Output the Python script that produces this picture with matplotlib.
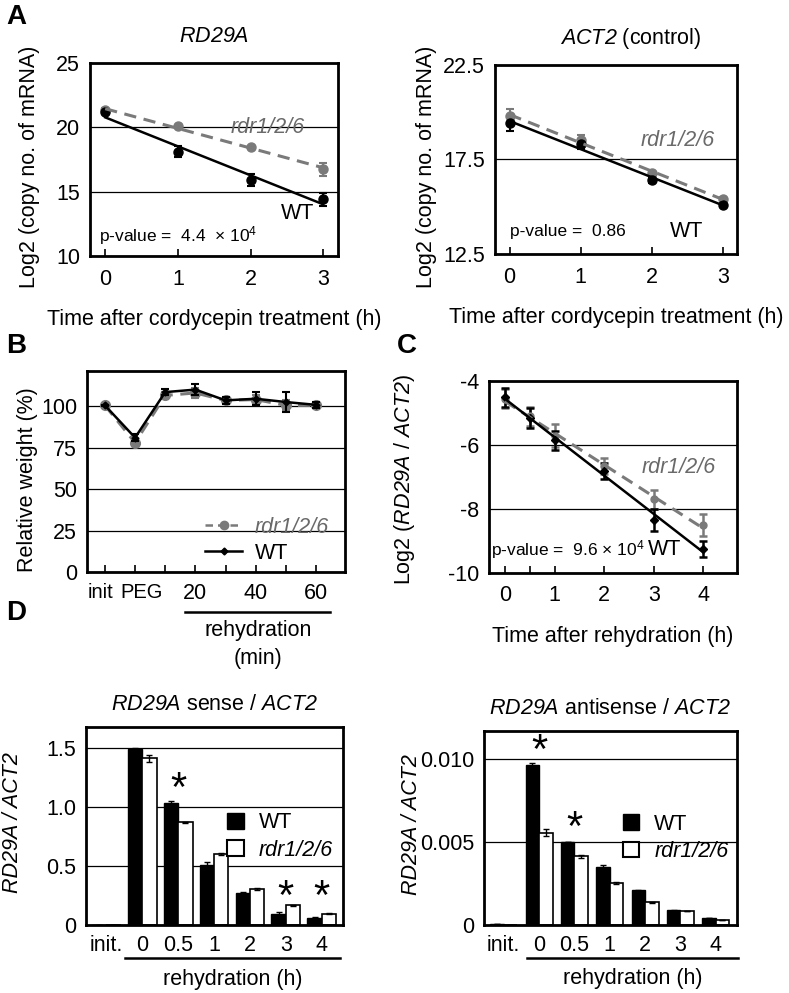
import numpy as np
import matplotlib
matplotlib.use("Agg")
import matplotlib.pyplot as plt
from matplotlib.lines import Line2D
from matplotlib.patches import Patch
from matplotlib.transforms import ScaledTranslation

plt.rcParams['font.family'] = ['Liberation Sans', 'DejaVu Sans']
plt.rcParams['axes.unicode_minus'] = False
# math mode is only used for italic gene names, so make rm italic too (digits stay italic)
plt.rcParams['mathtext.fontset'] = 'custom'
plt.rcParams['mathtext.rm'] = 'Liberation Sans:italic'
plt.rcParams['mathtext.it'] = 'Liberation Sans:italic'
plt.rcParams['mathtext.sf'] = 'Liberation Sans'
plt.rcParams['mathtext.bf'] = 'Liberation Sans:bold'

GREY = '#7a7a7a'
GREY_TXT = '#6a6a6a'
FS = 15.5

# ---- panel A data (cordycepin time course) ----
a_time = [0, 1, 2, 3]
rd29a_wt = [21.15, 18.1, 15.9, 14.4]
rd29a_wt_err = [0.15, 0.45, 0.5, 0.5]
rd29a_rdr = [21.3, 20.05, 18.45, 16.75]
rd29a_rdr_err = [0.15, 0.1, 0.1, 0.5]
act2_wt = [19.4, 18.3, 16.4, 15.1]
act2_wt_err = [0.4, 0.25, 0.15, 0.1]
act2_rdr = [19.8, 18.5, 16.8, 15.4]
act2_rdr_err = [0.35, 0.3, 0.1, 0.1]

# ---- panel B data (relative weight) ----
b_labels = ['init', 'PEG', '', '20', '', '40', '', '60']
weight_wt = [100.5, 81, 108.5, 110, 103.5, 104.5, 102.5, 100.8]
weight_wt_err = [0.5, 2, 2, 3.5, 2, 4, 6, 2]
weight_rdr = [100.5, 78, 106.5, 108, 103.5, 104, 100.5, 100.5]
weight_rdr_err = [0.5, 1.5, 2, 3, 1.5, 3, 3, 1.5]

# ---- panel C data (RD29A / ACT2 after rehydration) ----
c_time = [0, 0.5, 1, 2, 3, 4]
ratio_wt = [-4.5, -5.15, -5.85, -6.8, -8.35, -9.25]
ratio_wt_err = [0.3, 0.3, 0.3, 0.25, 0.35, 0.25]
ratio_rdr = [-4.55, -5.1, -5.7, -6.65, -7.7, -8.5]
ratio_rdr_err = [0.3, 0.3, 0.35, 0.25, 0.3, 0.35]

# ---- panel D data (strand specific qPCR) ----
d_labels = ['init.', '0', '0.5', '1', '2', '3', '4']
sense_wt = [0.005, 1.49, 1.035, 0.515, 0.275, 0.1, 0.065]
sense_wt_err = [0, 0.01, 0.015, 0.02, 0.005, 0.015, 0.005]
sense_rdr = [0.003, 1.415, 0.875, 0.605, 0.31, 0.17, 0.1]
sense_rdr_err = [0, 0.03, 0.004, 0.005, 0.01, 0.005, 0.003]
anti_wt = [0.00008, 0.0096, 0.0050, 0.0035, 0.0021, 0.00092, 0.00042]
anti_wt_err = [0, 0.00015, 0, 0.0001, 0.00005, 0.00003, 0]
anti_rdr = [0.00004, 0.00555, 0.00415, 0.00253, 0.00139, 0.00088, 0.00032]
anti_rdr_err = [0, 0.0002, 0.0001, 0.00005, 0.00003, 0, 0]
sense_stars = [2, 5, 6]
anti_stars = [1, 2]

fig = plt.figure(figsize=(7.89, 9.93), dpi=100)


def frame(ax):
    for s in ax.spines.values():
        s.set_linewidth(2.0)
    ax.set_axisbelow(True)
    ax.grid(axis='y', color='k', lw=0.9)
    ax.tick_params(axis='both', labelsize=FS)
    ax.tick_params(axis='y', length=0, pad=7)


def fit_line(ax, x, y, **kw):
    k, b = np.polyfit(x, y, 1)
    xx = np.array([x[0], x[-1]])
    ax.plot(xx, k * xx + b, **kw)


def decay_panel(rect, wt, wt_err, rdr, rdr_err, ylim, yticks, yticklabels, ylab_x):
    ax = fig.add_axes(rect)
    frame(ax)
    ax.errorbar(a_time, rdr, yerr=rdr_err, fmt='o', color=GREY, ms=6.5, capsize=3,
                elinewidth=1.5, capthick=1.5, zorder=3)
    ax.errorbar(a_time, wt, yerr=wt_err, fmt='o', color='k', ms=6.5, capsize=3,
                elinewidth=1.5, capthick=1.5, zorder=3)
    fit_line(ax, a_time, rdr, color=GREY, lw=2.2, ls=(0, (4, 2.5)), zorder=4)
    fit_line(ax, a_time, wt, color='k', lw=1.8, zorder=4)
    ax.set_xlim(-0.21, 3.2)
    ax.set_ylim(*ylim)
    ax.set_yticks(yticks)
    ax.set_yticklabels(yticklabels)
    ax.set_xticks(a_time)
    ax.tick_params(axis='x', direction='in', length=5, width=1.2, pad=9)
    ax.set_xlabel('Time after cordycepin treatment (h)', fontsize=FS, labelpad=14)
    ax.set_ylabel('Log2 (copy no. of mRNA)', fontsize=FS)
    ax.yaxis.set_label_coords(ylab_x, 0.46)
    return ax


# ---- A left ----
axA1 = decay_panel([0.114, 0.742, 0.314, 0.195], rd29a_wt, rd29a_wt_err, rd29a_rdr, rd29a_rdr_err,
                   (10, 25), [10, 15, 20, 25], ['10', '15', '20', '25'], -0.2)
axA1.set_title('$RD29A$', fontsize=FS, pad=15)
axA1.text(1.73, 20.0, 'rdr1/2/6', fontsize=FS, style='italic', color=GREY_TXT, va='center')
axA1.text(2.42, 13.3, 'WT', fontsize=FS, va='center')
axA1.text(-0.08, 11.6, r'p-value =  4.4  × 10$^{\mathsf{4}}$', fontsize=12.5, va='center')

# ---- A right ----
axA2 = decay_panel([0.627, 0.744, 0.307, 0.191], act2_wt, act2_wt_err, act2_rdr, act2_rdr_err,
                   (12.5, 22.5), [12.5, 17.5, 22.5], ['12.5', '17.5', '22.5'], -0.24)
axA2.set_title('$ACT2$ (control)', fontsize=FS, pad=15, x=0.56)
axA2.text(1.84, 18.5, 'rdr1/2/6', fontsize=FS, style='italic', color=GREY_TXT, va='center')
axA2.text(2.26, 13.7, 'WT', fontsize=FS, va='center')
axA2.text(0.0, 13.7, 'p-value =  0.86', fontsize=12.5, va='center')

# ---- B ----
axB = fig.add_axes([0.110, 0.424, 0.327, 0.202])
frame(axB)
bx = np.arange(len(weight_wt))
axB.errorbar(bx, weight_rdr, yerr=weight_rdr_err, color=GREY, ls=(0, (4, 2.5)), lw=2.2,
             marker='o', ms=7, capsize=3, elinewidth=1.5, capthick=1.5, zorder=3)
axB.errorbar(bx, weight_wt, yerr=weight_wt_err, color='k', lw=1.8, marker='D', ms=3.5,
             capsize=3, elinewidth=1.5, capthick=1.5, zorder=4)
axB.set_xlim(-0.6, 7.95)
axB.set_ylim(0, 121)
axB.set_yticks([0, 25, 50, 75, 100])
axB.set_xticks(bx)
axB.set_xticklabels(b_labels)
axB.tick_params(axis='x', direction='in', length=5, width=1.2, pad=8)
axB.set_ylabel('Relative weight (%)', fontsize=FS)
axB.yaxis.set_label_coords(-0.19, 0.46)
# squeeze "init" and "PEG" apart a little like the original
xt = axB.get_xticklabels()
xt[0].set_fontsize(14.5)
xt[1].set_fontsize(14.5)
xt[0].set_transform(xt[0].get_transform() + ScaledTranslation(-3 / 72, 0, fig.dpi_scale_trans))
xt[1].set_transform(xt[1].get_transform() + ScaledTranslation(5 / 72, 0, fig.dpi_scale_trans))
axB.plot([2.66, 7.45], [-0.2, -0.2], color='k', lw=1.8, clip_on=False,
         transform=axB.get_xaxis_transform())
axB.text(5.08, -0.29, 'rehydration', fontsize=FS, ha='center', va='center',
         transform=axB.get_xaxis_transform())
axB.text(5.08, -0.43, '(min)', fontsize=FS, ha='center', va='center',
         transform=axB.get_xaxis_transform())
hB = [Line2D([], [], color=GREY, ls=(0, (3, 2)), lw=1.8, marker='o', ms=6),
      Line2D([], [], color='k', lw=1.8, marker='D', ms=3.5)]
legB = axB.legend(hB, ['rdr1/2/6', 'WT'], loc='lower left', bbox_to_anchor=(0.46, 0.04),
                  frameon=False, fontsize=FS, handlelength=1.7, handletextpad=0.6,
                  labelspacing=0.25, borderpad=0, borderaxespad=0)
legB.get_texts()[0].set_style('italic')
legB.get_texts()[0].set_color(GREY_TXT)

# ---- C ----
axC = fig.add_axes([0.620, 0.423, 0.314, 0.193])
frame(axC)
axC.errorbar(c_time, ratio_rdr, yerr=ratio_rdr_err, fmt='o', color=GREY, ms=5, capsize=3,
             elinewidth=1.8, capthick=1.8, zorder=3)
axC.errorbar(c_time, ratio_wt, yerr=ratio_wt_err, fmt='D', color='k', ms=4, capsize=3,
             elinewidth=1.8, capthick=1.8, zorder=3)
fit_line(axC, c_time, ratio_rdr, color=GREY, lw=2.2, ls=(0, (4, 2.5)), zorder=4)
fit_line(axC, c_time, ratio_wt, color='k', lw=1.8, zorder=4)
axC.set_xlim(-0.32, 4.68)
axC.set_ylim(-10, -4)
axC.set_yticks([-10, -8, -6, -4])
axC.set_xticks(c_time)
axC.set_xticklabels(['0', '', '1', '2', '3', '4'])
axC.tick_params(axis='x', direction='in', length=5, width=1.2, pad=9)
axC.set_xlabel('Time after rehydration (h)', fontsize=FS, labelpad=14)
axC.set_ylabel('Log2 ($RD29A$ / $ACT2$)', fontsize=FS)
axC.yaxis.set_label_coords(-0.29, 0.49)
axC.text(2.76, -6.69, 'rdr1/2/6', fontsize=FS, style='italic', color=GREY_TXT, va='center')
axC.text(2.88, -9.28, 'WT', fontsize=FS, va='center')
axC.text(-0.28, -9.28, r'p-value =  9.6 × 10$^{\mathsf{4}}$', fontsize=12.5, va='center')


# ---- D ----
def bar_panel(rect, wt, wt_err, rdr, rdr_err, width, ylim, yticks, yticklabels, title,
              stars, star_y, under, leg_xy):
    ax = fig.add_axes(rect)
    frame(ax)
    gx = np.arange(len(d_labels))
    ax.bar(gx - width / 2, wt, width, yerr=wt_err, color='k', edgecolor='k', lw=1,
           error_kw=dict(ecolor='k', capsize=2.5, elinewidth=1, capthick=1))
    ax.bar(gx + width / 2, rdr, width, yerr=rdr_err, color='white', edgecolor='k', lw=1.2,
           error_kw=dict(ecolor='k', capsize=2.5, elinewidth=1, capthick=1))
    ax.set_xlim(-0.57, 6.6)
    ax.set_ylim(*ylim)
    ax.set_yticks(yticks)
    ax.set_yticklabels(yticklabels)
    ax.set_xticks(gx)
    ax.set_xticklabels(d_labels)
    ax.tick_params(axis='x', length=0, pad=7)
    ax.set_title(title, fontsize=FS, pad=12)
    ax.set_ylabel('RD29A / ACT2', fontsize=FS, style='italic')
    ax.yaxis.set_label_coords(-0.245, 0.52)
    for i, sy in zip(stars, star_y):
        ax.text(gx[i], sy, '*', fontsize=30, ha='center', va='center')
    tr = ax.get_xaxis_transform()
    ax.plot(under, [-0.165, -0.165], color='k', lw=1.8, clip_on=False, transform=tr)
    ax.text(np.mean(under), -0.27, 'rehydration (h)', fontsize=FS, ha='center', va='center',
            transform=tr)
    h = [Patch(facecolor='k', edgecolor='k'), Patch(facecolor='white', edgecolor='k', lw=1.5)]
    leg = ax.legend(h, ['WT', 'rdr1/2/6'], loc='upper left', bbox_to_anchor=leg_xy,
                    frameon=False, fontsize=FS, handlelength=0.75, handleheight=0.75,
                    handletextpad=0.7, labelspacing=0.3, borderpad=0, borderaxespad=0)
    leg.get_texts()[1].set_style('italic')
    return ax


axD1 = bar_panel([0.109, 0.068, 0.326, 0.200], sense_wt, sense_wt_err, sense_rdr, sense_rdr_err,
                 0.4, (0, 1.68), [0, 0.5, 1.0, 1.5], ['0', '0.5', '1.0', '1.5'],
                 '$RD29A$ sense / $ACT2$', sense_stars, [1.15, 0.23, 0.23],
                 [0.53, 6.5], (0.55, 0.57))
axD2 = bar_panel([0.613, 0.068, 0.321, 0.196], anti_wt, anti_wt_err, anti_rdr, anti_rdr_err,
                 0.38, (0, 0.01166), [0, 0.005, 0.010], ['0', '0.005', '0.010'],
                 '$RD29A$ antisense / $ACT2$', anti_stars, [0.0104, 0.0058],
                 [0.66, 6.62], (0.55, 0.575))

# panel letters
for lab, x, y in [('A', 0.008, 0.983), ('B', 0.008, 0.652), ('C', 0.503, 0.652), ('D', 0.008, 0.383)]:
    fig.text(x, y, lab, fontsize=20, fontweight='bold', va='center')

fig.savefig('out.png', dpi=100)
